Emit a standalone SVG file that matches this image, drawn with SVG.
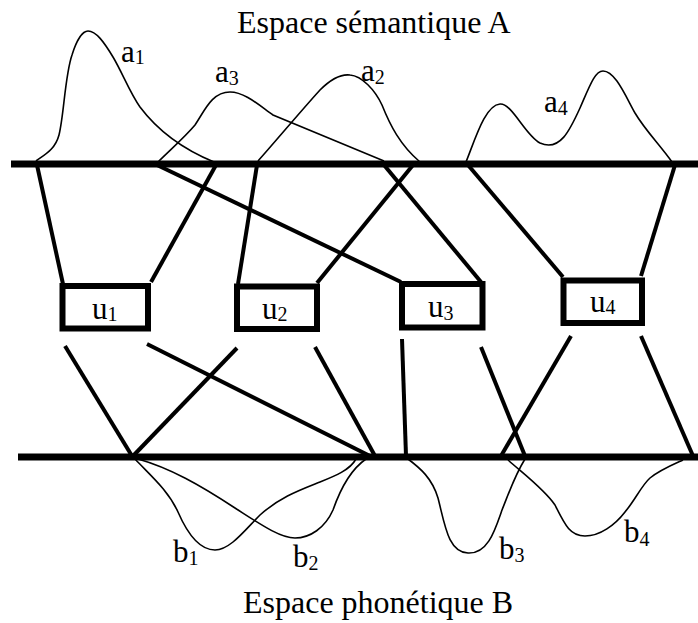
<svg xmlns="http://www.w3.org/2000/svg" width="698" height="623" viewBox="0 0 698 623">
<style>
.bar{stroke:#000;stroke-width:7;fill:none}
.link{stroke:#000;stroke-width:4;fill:none}
.curve{stroke:#000;stroke-width:1.6;fill:none}
.box{fill:#fff;stroke:#000;stroke-width:6}
text{font-family:"Liberation Serif","Times New Roman",serif;fill:#000}
.lbl{font-size:31px}
.sub{font-size:20px}
.title{font-size:32px}
</style>
<rect width="698" height="623" fill="#fff"/>
<text class="title" x="237" y="33">Espace sémantique A</text>
<text class="title" x="243" y="613">Espace phonétique B</text>

<g id="curves">
<path class="curve" d="M36,161 C44,155 55,150 59,135 C64,115 65,75 72,55 C76,42 82,31 88,31 C96,31 104,42 113,57 C122,72 130,93 140,107 C155,127 180,148 214,162"/>
<path class="curve" d="M158,162 C170,150 185,137 195,125 C205,110 212,92 230,92 C245,92 260,106 273,115 L384,161"/>
<path class="curve" d="M258,161 C275,142 300,112 320,90 C332,78 342,74 350,75 C362,76 375,90 382,105 C390,125 400,145 420,162"/>
<path class="curve" d="M466,162 C475,140 485,105 500,104 C512,103 525,135 540,143 C560,152 570,130 580,108 C590,85 595,71 603,71 C615,71 625,95 635,113 C645,130 660,145 672,162"/>
<path class="curve" d="M135,459 C150,475 168,490 178,512 C188,535 200,550 215,550 C230,550 245,530 260,515 C280,497 300,490 320,482 C335,476 350,470 356,459"/>
<path class="curve" d="M138,459 C170,468 200,485 235,508 C260,524 280,538 295,538 C310,538 325,528 333,510 C340,490 350,470 366,459"/>
<path class="curve" d="M408,459 C420,468 432,478 438,498 C445,525 448,552 468,553 C488,554 495,530 502,510 C510,490 515,475 525,459"/>
<path class="curve" d="M508,460 C525,475 545,490 555,505 C565,525 570,536 585,536 C600,536 615,525 625,512 C635,500 642,485 650,478 C660,470 672,465 683,460"/>
</g>

<g id="spaces">
<line class="bar" x1="11" y1="164" x2="698" y2="164"/>
<line class="bar" x1="18" y1="457" x2="698" y2="457"/>
</g>

<g id="connectors">
<line class="link" x1="37" y1="165" x2="63" y2="284"/>
<line class="link" x1="216" y1="165" x2="151" y2="282"/>
<line class="link" x1="157" y1="165" x2="401" y2="282"/>
<line class="link" x1="257" y1="165" x2="238" y2="284"/>
<line class="link" x1="413" y1="165" x2="317" y2="283"/>
<line class="link" x1="384" y1="165" x2="481" y2="282"/>
<line class="link" x1="468" y1="165" x2="563" y2="277"/>
<line class="link" x1="675" y1="165" x2="641" y2="276"/>
<line class="link" x1="65" y1="346" x2="132" y2="456"/>
<line class="link" x1="147" y1="344" x2="370" y2="456"/>
<line class="link" x1="237" y1="348" x2="133" y2="456"/>
<line class="link" x1="315" y1="347" x2="375" y2="456"/>
<line class="link" x1="402" y1="339" x2="406" y2="456"/>
<line class="link" x1="481" y1="347" x2="525" y2="456"/>
<line class="link" x1="571" y1="336" x2="501" y2="456"/>
<line class="link" x1="641" y1="336" x2="693" y2="456"/>
</g>

<g id="u1"><rect class="box" x="62.5" y="286" width="85.5" height="42.5"/><text class="lbl" x="92" y="319">u<tspan class="sub" dy="2">1</tspan></text></g>
<g id="u2"><rect class="box" x="237" y="286.5" width="80" height="42.5"/><text class="lbl" x="262" y="319">u<tspan class="sub" dy="2">2</tspan></text></g>
<g id="u3"><rect class="box" x="402" y="284" width="80.5" height="43.5"/><text class="lbl" x="428" y="317">u<tspan class="sub" dy="3">3</tspan></text></g>
<g id="u4"><rect class="box" x="563.5" y="280.5" width="78.5" height="42.5"/><text class="lbl" x="590" y="312">u<tspan class="sub" dy="2">4</tspan></text></g>

<g id="a-labels">
<text class="lbl" x="121" y="62">a<tspan class="sub" dy="2">1</tspan></text>
<text class="lbl" x="215" y="82">a<tspan class="sub" dy="3">3</tspan></text>
<text class="lbl" x="361" y="81">a<tspan class="sub" dy="3">2</tspan></text>
<text class="lbl" x="544" y="112">a<tspan class="sub" dy="3">4</tspan></text>
</g>
<g id="b-labels">
<text class="lbl" x="173" y="562">b<tspan class="sub" dy="3">1</tspan></text>
<text class="lbl" x="293" y="567">b<tspan class="sub" dy="3">2</tspan></text>
<text class="lbl" x="499" y="559">b<tspan class="sub" dy="3">3</tspan></text>
<text class="lbl" x="624" y="542">b<tspan class="sub" dy="4">4</tspan></text>
</g>
</svg>
